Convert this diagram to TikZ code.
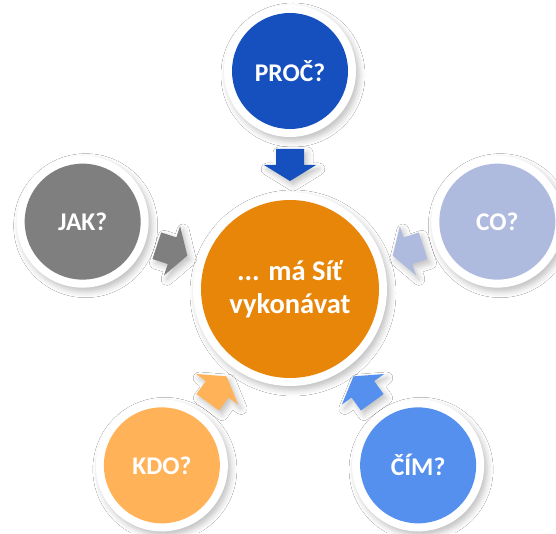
\documentclass[tikz,border=0pt]{standalone}
\usepackage{fontspec}
\setmainfont{Carlito}
\usetikzlibrary{shadows.blur,calc}

\definecolor{cNet}{HTML}{E8860A}
\definecolor{cProc}{HTML}{1550BE}
\definecolor{cCo}{HTML}{AFBADF}
\definecolor{cCim}{HTML}{5690EE}
\definecolor{cKdo}{HTML}{FFB257}
\definecolor{cJak}{HTML}{7F7F7F}

\tikzset{
  softshadow/.style={blur shadow={shadow xshift=3pt, shadow yshift=-4pt,
      shadow blur radius=6pt, shadow opacity=25}},
  % white ring of the given outer size with a coloured disc inside
  core/.style={path picture={
      \fill[#1] (path picture bounding box.center) circle (\pgfkeysvalueof{/tikz/core radius});}},
  core radius/.initial=58pt,
  bubble/.style={circle, fill=white, draw=none, inner sep=0pt,
      minimum size=132pt, softshadow, text=white, core radius=58pt,
      font=\fontsize{25.5}{29}\selectfont\bfseries},
  hub/.style={bubble, minimum size=194pt, core radius=89pt, align=center,
      font=\fontsize{28.5}{33}\selectfont\bfseries},
  blockarrow/.style={softshadow}
}

\begin{document}
\begin{tikzpicture}[x=1pt, y=1pt]
  \useasboundingbox (0,0) rectangle (556,533);
  \fill[white] (0,0) rectangle (556,533);

  % central question
  \node[hub, core=cNet] (net) at (290,244) {... má Síť\\vykonávat};

  % surrounding questions on a pentagon
  \node[bubble, core=cProc] (proc) at ($(net.center)+(90:218)$) {PROČ?};
  \node[bubble, core=cCo]   (co)   at ($(net.center)+(18:218)$) {CO?};
  \node[bubble, core=cCim]  (cim)  at ($(net.center)+(-54:218)$) {ČÍM?};
  \node[bubble, core=cKdo]  (kdo)  at ($(net.center)+(-126:218)$) {KDO?};
  \node[bubble, core=cJak]  (jak)  at ($(net.center)+(162:218)$) {JAK?};

  % block arrows pointing into the hub
  \foreach \ang/\col in {90/cProc, 18/cCo, -54/cCim, -126/cKdo, 162/cJak} {
    \fill[blockarrow, fill=\col]
      ($(net.center)+(\ang:140)+(\ang+90:14)$) --
      ($(net.center)+(\ang:124)+(\ang+90:14)$) --
      ($(net.center)+(\ang:124)+(\ang+90:26)$) --
      ($(net.center)+(\ang:108)$) --
      ($(net.center)+(\ang:124)+(\ang-90:26)$) --
      ($(net.center)+(\ang:124)+(\ang-90:14)$) --
      ($(net.center)+(\ang:140)+(\ang-90:14)$) -- cycle;
  }
\end{tikzpicture}
\end{document}
